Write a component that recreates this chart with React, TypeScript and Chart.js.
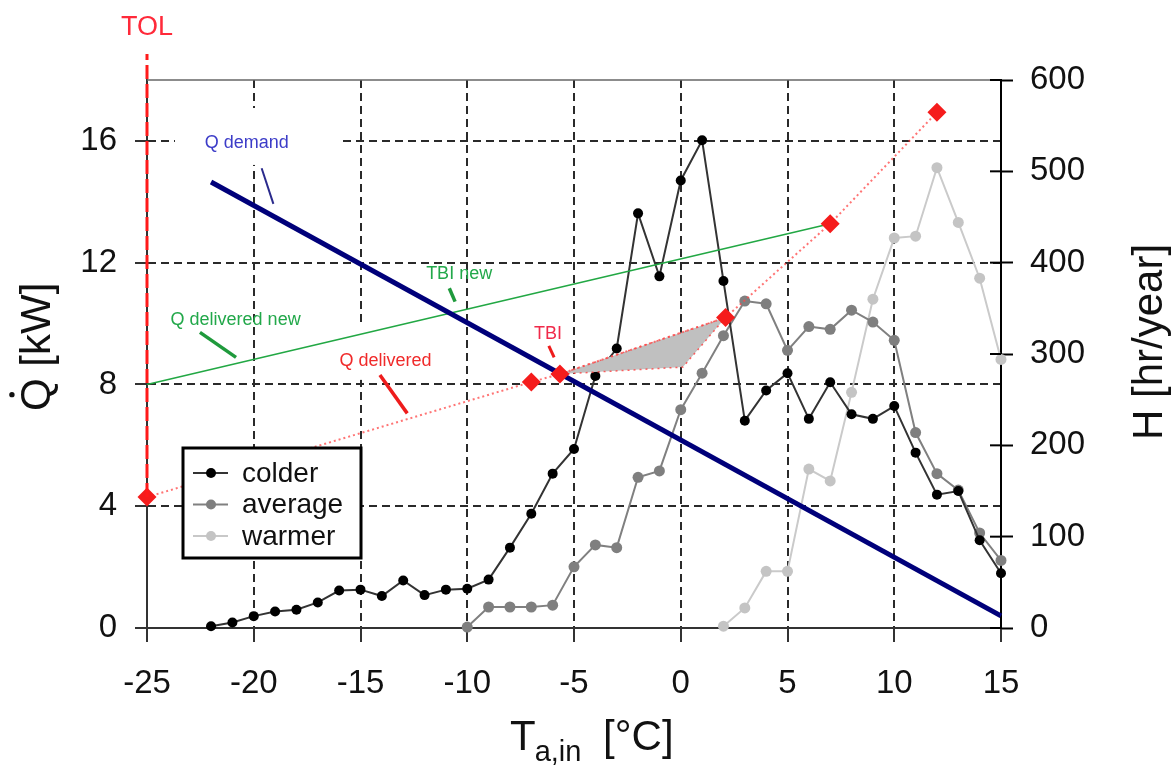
import React, { useEffect, useRef } from 'react';
import { Chart, registerables } from 'chart.js';
Chart.register(...registerables);

// ---------- data ----------
const X_TICKS = [-25, -20, -15, -10, -5, 0, 5, 10, 15];
const Q_TICKS = [0, 4, 8, 12, 16];
const H_TICKS = [0, 100, 200, 300, 400, 500, 600];

const T_COLDER = [-22, -21, -20, -19, -18, -17, -16, -15, -14, -13, -12, -11, -10, -9, -8, -7, -6, -5, -4, -3, -2, -1, 0, 1, 2, 3, 4, 5, 6, 7, 8, 9, 10, 11, 12, 13, 14, 15];
const H_COLDER = [2, 6, 13, 18, 20, 28, 41, 42, 35, 52, 36, 42, 43, 53, 88, 125, 169, 196, 276, 306, 454, 385, 490, 534, 380, 227, 260, 279, 229, 269, 234, 229, 243, 192, 146, 150, 96, 60];

const T_AVERAGE = [-10, -9, -8, -7, -6, -5, -4, -3, -2, -1, 0, 1, 2, 3, 4, 5, 6, 7, 8, 9, 10, 11, 12, 13, 14, 15];
const H_AVERAGE = [1, 23, 23, 23, 25, 67, 91, 88, 165, 172, 239, 279, 320, 358, 355, 304, 330, 327, 348, 335, 315, 214, 169, 151, 104, 74];

const T_WARMER = [2, 3, 4, 5, 6, 7, 8, 9, 10, 11, 12, 13, 14, 15];
const H_WARMER = [2, 22, 62, 62, 174, 161, 258, 360, 427, 429, 504, 444, 383, 294];

const T_DEMAND = [-22, 15];
const Q_DEMAND = [14.65, 0.4];

const T_DELIVERED = [-25, -7, -5.66, 2.1, 7, 12];
const Q_DELIVERED = [4.3, 8.08, 8.34, 10.2, 13.28, 16.94];

const T_DELIVERED_NEW = [-25, 7];
const Q_DELIVERED_NEW = [8, 13.28];

const T_GAIN = [-5.66, 2.1, 0.1, -5.66];
const Q_GAIN = [8.34, 10.2, 8.57, 8.34];

const T_TOL = [-25, -25];
const Q_TOL = [4.3, 18.85];

// annotation labels and leader lines (data units)
const ANNOTATIONS = [
  { text: 'Q demand', color: '#3c3cc8', tx: -20.33, ty: 15.93, x1: -19.63, y1: 15.1, x2: -19.08, y2: 13.93, lineColor: '#2a2a8c', lw: 2 },
  { text: 'Q delivered new', color: '#22a84a', tx: -20.85, ty: 10.12, x1: -22.52, y1: 9.71, x2: -20.83, y2: 8.89, lineColor: '#1f9a3c', lw: 3.5 },
  { text: 'Q delivered', color: '#f02a2a', tx: -13.83, ty: 8.77, x1: -14.09, y1: 8.31, x2: -12.81, y2: 7.05, lineColor: '#ee1c1c', lw: 3.5 },
  { text: 'TBI new', color: '#22a84a', tx: -10.38, ty: 11.63, x1: -10.84, y1: 11.16, x2: -10.57, y2: 10.72, lineColor: '#1f9a3c', lw: 3.5 },
  { text: 'TBI', color: '#f02a4a', tx: -6.22, ty: 9.64, x1: -6.18, y1: 9.27, x2: -5.93, y2: 8.89, lineColor: '#ee1c1c', lw: 3 },
];
// white label backgrounds (data units: x0, x1, y0, y1)
const LABEL_BOXES = [
  [-23.69, -15.82, 15.21, 17.08],
  [-16.1, -11.28, 8.15, 10.05],
];

const LEGEND_ITEMS = [
  { label: 'colder', line: '#333333', point: '#000000' },
  { label: 'average', line: '#808080', point: '#7f7f7f' },
  { label: 'warmer', line: '#c8c8c8', point: '#c4c4c4' },
];

const FONT = "'Liberation Sans', Arial, sans-serif";

const pts = (xs: number[], ys: number[]) => xs.map((x, i) => ({ x, y: ys[i] }));

const overlayPlugin = {
  id: 'overlay',
  beforeDatasetsDraw(chart: any) {
    const { ctx, scales } = chart;
    const xs = scales.x, ys = scales.y;
    ctx.save();
    ctx.fillStyle = '#fff';
    for (const [x0, x1, y0, y1] of LABEL_BOXES) {
      const px0 = xs.getPixelForValue(x0), px1 = xs.getPixelForValue(x1);
      const py0 = ys.getPixelForValue(y1), py1 = ys.getPixelForValue(y0);
      ctx.fillRect(px0, py0, px1 - px0, py1 - py0);
    }
    ctx.restore();
  },
  afterDatasetsDraw(chart: any) {
    const { ctx, chartArea: ca, scales } = chart;
    const xs = scales.x, ys = scales.y, ys2 = scales.y2;
    ctx.save();
    // top border
    ctx.strokeStyle = '#666';
    ctx.lineWidth = 1.5;
    ctx.beginPath();
    ctx.moveTo(ca.left, ca.top);
    ctx.lineTo(ca.right, ca.top);
    ctx.stroke();
    // inward ticks on right axis
    ctx.strokeStyle = '#000';
    ctx.lineWidth = 2;
    for (const v of H_TICKS) {
      const py = ys2.getPixelForValue(v);
      ctx.beginPath();
      ctx.moveTo(ca.right - 11, py);
      ctx.lineTo(ca.right, py);
      ctx.stroke();
    }
    // annotations
    ctx.font = `18px ${FONT}`;
    ctx.textAlign = 'center';
    ctx.textBaseline = 'middle';
    for (const a of ANNOTATIONS) {
      ctx.fillStyle = a.color;
      ctx.fillText(a.text, xs.getPixelForValue(a.tx), ys.getPixelForValue(a.ty));
      ctx.strokeStyle = a.lineColor;
      ctx.lineWidth = a.lw;
      ctx.beginPath();
      ctx.moveTo(xs.getPixelForValue(a.x1), ys.getPixelForValue(a.y1));
      ctx.lineTo(xs.getPixelForValue(a.x2), ys.getPixelForValue(a.y2));
      ctx.stroke();
    }
    // legend
    const L = { x: ca.left + 36, y: ca.top + 368, w: 178, h: 110 };
    ctx.fillStyle = '#fff';
    ctx.fillRect(L.x, L.y, L.w, L.h);
    ctx.strokeStyle = '#000';
    ctx.lineWidth = 3;
    ctx.strokeRect(L.x, L.y, L.w, L.h);
    ctx.font = `28px ${FONT}`;
    ctx.textAlign = 'left';
    ctx.textBaseline = 'middle';
    LEGEND_ITEMS.forEach((it, i) => {
      const y = L.y + 25 + i * 31.5;
      ctx.strokeStyle = it.line;
      ctx.lineWidth = 2;
      ctx.beginPath();
      ctx.moveTo(L.x + 10, y);
      ctx.lineTo(L.x + 45, y);
      ctx.stroke();
      ctx.fillStyle = it.point;
      ctx.beginPath();
      ctx.arc(L.x + 28, y, 5, 0, Math.PI * 2);
      ctx.fill();
      ctx.fillStyle = '#111';
      ctx.fillText(it.label, L.x + 59, y + 1);
    });
    ctx.restore();
  },
  afterDraw(chart: any) {
    const { ctx, scales } = chart;
    const xs = scales.x;
    ctx.save();
    ctx.fillStyle = '#111';
    ctx.textBaseline = 'alphabetic';
    ctx.textAlign = 'left';
    // left title  Q̇ [kW]
    ctx.save();
    ctx.translate(50, 411);
    ctx.rotate(-Math.PI / 2);
    ctx.font = `42px ${FONT}`;
    ctx.fillText('Q [kW]', 0, 0);
    const qW = ctx.measureText('Q').width;
    ctx.beginPath();
    ctx.arc(qW / 2, -0.716 * 42 - 8, 2.7, 0, Math.PI * 2);
    ctx.fill();
    ctx.restore();
    // right title
    ctx.save();
    ctx.translate(1162, 440);
    ctx.rotate(-Math.PI / 2);
    ctx.font = `42px ${FONT}`;
    ctx.fillText('H [hr/year]', 0, 0);
    ctx.restore();
    // bottom title
    ctx.font = `42px ${FONT}`;
    let x = 510;
    ctx.fillText('T', x, 750);
    x += ctx.measureText('T').width - 1;
    ctx.font = `29px ${FONT}`;
    ctx.fillText('a,in', x, 761);
    x += ctx.measureText('a,in').width;
    ctx.font = `42px ${FONT}`;
    ctx.fillText(' [°C]', x + 10, 750);
    // TOL label
    ctx.fillStyle = '#ff2a3a';
    ctx.font = `27px ${FONT}`;
    ctx.textAlign = 'center';
    ctx.fillText('TOL', xs.getPixelForValue(-25), 35);
    ctx.restore();
  },
};

const dashedGrid = (edgeValues: number[]) => (c: any) =>
  c.tick && edgeValues.includes(c.tick.value) ? 'rgba(0,0,0,0)' : '#2a2a2a';

export default function App() {
  const ref = useRef<HTMLCanvasElement>(null);
  useEffect(() => {
    document.body.style.margin = '0';
    const canvas = ref.current!;
    const chart = new Chart(canvas, {
      type: 'line',
      data: {
        datasets: [
          {
            label: 'TOL', data: pts(T_TOL, Q_TOL), yAxisID: 'y', borderColor: '#ff1a1a', borderWidth: 3,
            borderDash: [14, 5], pointRadius: 0, clip: false, order: 0,
          } as any,
          {
            label: 'diamonds', data: pts(T_DELIVERED, Q_DELIVERED), yAxisID: 'y', showLine: false,
            pointStyle: 'rectRot', pointRadius: 9.5, pointBackgroundColor: '#f51c1c', pointBorderColor: '#f51c1c',
            pointBorderWidth: 0, clip: false, order: 1,
          },
          {
            label: 'Q delivered', data: pts(T_DELIVERED, Q_DELIVERED), yAxisID: 'y', borderColor: 'rgba(255,70,70,0.75)',
            borderWidth: 2, borderDash: [2, 3], pointRadius: 0, clip: false, order: 2,
          },
          {
            label: 'Q demand', data: pts(T_DEMAND, Q_DEMAND), yAxisID: 'y', borderColor: '#00007a', borderWidth: 5,
            pointRadius: 0, clip: false, order: 3,
          },
          {
            label: 'gain', data: pts(T_GAIN, Q_GAIN), yAxisID: 'y', borderColor: 'rgba(255,60,60,0.8)', borderWidth: 1.5,
            borderDash: [2, 4], backgroundColor: '#c0c0c0', fill: 'shape', pointRadius: 0, clip: false, order: 4,
          } as any,
          {
            label: 'Q delivered new', data: pts(T_DELIVERED_NEW, Q_DELIVERED_NEW), yAxisID: 'y', borderColor: '#22a844',
            borderWidth: 1.5, pointRadius: 0, clip: false, order: 5,
          },
          {
            label: 'colder', data: pts(T_COLDER, H_COLDER), yAxisID: 'y2', borderColor: '#333333', borderWidth: 2,
            pointRadius: 5, pointBackgroundColor: '#000', pointBorderWidth: 0, clip: false, order: 6,
          },
          {
            label: 'average', data: pts(T_AVERAGE, H_AVERAGE), yAxisID: 'y2', borderColor: '#808080', borderWidth: 2,
            pointRadius: 5.5, pointBackgroundColor: '#7f7f7f', pointBorderWidth: 0, clip: false, order: 7,
          },
          {
            label: 'warmer', data: pts(T_WARMER, H_WARMER), yAxisID: 'y2', borderColor: '#cacaca', borderWidth: 2,
            pointRadius: 5.5, pointBackgroundColor: '#c4c4c4', pointBorderWidth: 0, clip: false, order: 8,
          },
        ],
      },
      options: {
        responsive: false,
        animation: false,
        devicePixelRatio: 1,
        layout: { padding: { top: 80, left: 0, right: 0, bottom: 0 } },
        elements: { line: { tension: 0 } },
        plugins: { legend: { display: false }, tooltip: { enabled: false } },
        scales: {
          x: {
            type: 'linear', position: 'bottom', min: -25, max: 15,
            afterBuildTicks: (s: any) => { s.ticks = X_TICKS.map((v) => ({ value: v })); },
            afterFit: (s: any) => { s.height = 139; },
            ticks: { font: { family: FONT, size: 33 }, color: '#111', padding: 22, maxRotation: 0, autoSkip: false, callback: (v: any) => String(v) },
            grid: { color: dashedGrid([-25, 15]), lineWidth: 2, tickLength: 14, tickColor: '#333', tickWidth: 2 },
            border: { display: true, color: '#333', width: 2, dash: [8, 5] },
          },
          y: {
            type: 'linear', position: 'left', min: 0, max: 18,
            afterBuildTicks: (s: any) => { s.ticks = Q_TICKS.map((v) => ({ value: v })); },
            afterFit: (s: any) => { s.width = 147; },
            ticks: { font: { family: FONT, size: 33 }, color: '#111', padding: 18, autoSkip: false, callback: (v: any) => String(v) },
            grid: { color: dashedGrid([0]), lineWidth: 2, tickLength: 12, tickColor: '#333', tickWidth: 2 },
            border: { display: true, color: '#333', width: 2, dash: [8, 5] },
          },
          y2: {
            type: 'linear', position: 'right', min: 0, max: 600,
            afterBuildTicks: (s: any) => { s.ticks = H_TICKS.map((v) => ({ value: v })); },
            afterFit: (s: any) => { s.width = 175; },
            ticks: { font: { family: FONT, size: 33 }, color: '#111', padding: 17, autoSkip: false, callback: (v: any) => String(v) },
            grid: { drawOnChartArea: false, tickLength: 12, tickColor: '#000', tickWidth: 2 },
            border: { display: true, color: '#000', width: 2 },
          },
        },
      } as any,
      plugins: [overlayPlugin],
    });
    return () => chart.destroy();
  }, []);
  return <canvas ref={ref} width={1176} height={767} style={{ display: 'block' }} />;
}
